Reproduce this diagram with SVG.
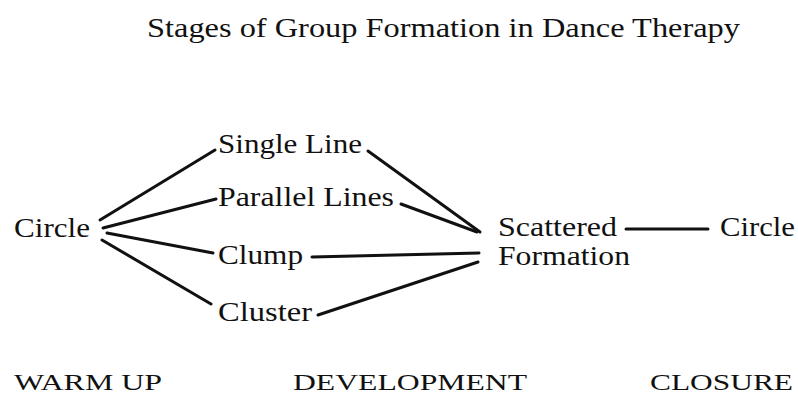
<svg xmlns="http://www.w3.org/2000/svg" width="798" height="394" viewBox="0 0 798 394">
<style>
text{font-family:"Liberation Serif","Times New Roman",serif;fill:#111;font-size:27px}
.t{font-size:28px}
.s{font-size:24px}
#connectors line{stroke:#111;stroke-width:3;stroke-linecap:round}
</style>
<rect width="798" height="394" fill="#fff"/>
<text class="t" x="147" y="37" textLength="593" lengthAdjust="spacingAndGlyphs">Stages of Group Formation in Dance Therapy</text>
<g id="connectors">
<line x1="100" y1="220" x2="215" y2="150"/>
<line x1="103" y1="228" x2="216" y2="199"/>
<line x1="107" y1="233" x2="213" y2="253"/>
<line x1="102" y1="240" x2="211" y2="304"/>
<line x1="368" y1="151" x2="480" y2="232"/>
<line x1="401" y1="204" x2="477" y2="232"/>
<line x1="312" y1="257" x2="479" y2="253"/>
<line x1="318" y1="315" x2="478" y2="262"/>
<line x1="626" y1="229" x2="708" y2="229"/>
</g>
<g id="circle-start"><text x="14" y="237" textLength="76" lengthAdjust="spacingAndGlyphs">Circle</text></g>
<g id="single-line"><text x="218" y="153" textLength="144" lengthAdjust="spacingAndGlyphs">Single Line</text></g>
<g id="parallel-lines"><text x="218" y="206" textLength="176" lengthAdjust="spacingAndGlyphs">Parallel Lines</text></g>
<g id="clump"><text x="218" y="264" textLength="85" lengthAdjust="spacingAndGlyphs">Clump</text></g>
<g id="cluster"><text x="218" y="321" textLength="94" lengthAdjust="spacingAndGlyphs">Cluster</text></g>
<g id="scattered-formation"><text x="498" y="236" textLength="119" lengthAdjust="spacingAndGlyphs">Scattered</text><text x="498" y="265" textLength="132" lengthAdjust="spacingAndGlyphs">Formation</text></g>
<g id="circle-end"><text x="720" y="236" textLength="75" lengthAdjust="spacingAndGlyphs">Circle</text></g>
<text class="s" x="14" y="390" textLength="148" lengthAdjust="spacingAndGlyphs">WARM UP</text>
<text class="s" x="293" y="390" textLength="234" lengthAdjust="spacingAndGlyphs">DEVELOPMENT</text>
<text class="s" x="650" y="390" textLength="143" lengthAdjust="spacingAndGlyphs">CLOSURE</text>
</svg>
